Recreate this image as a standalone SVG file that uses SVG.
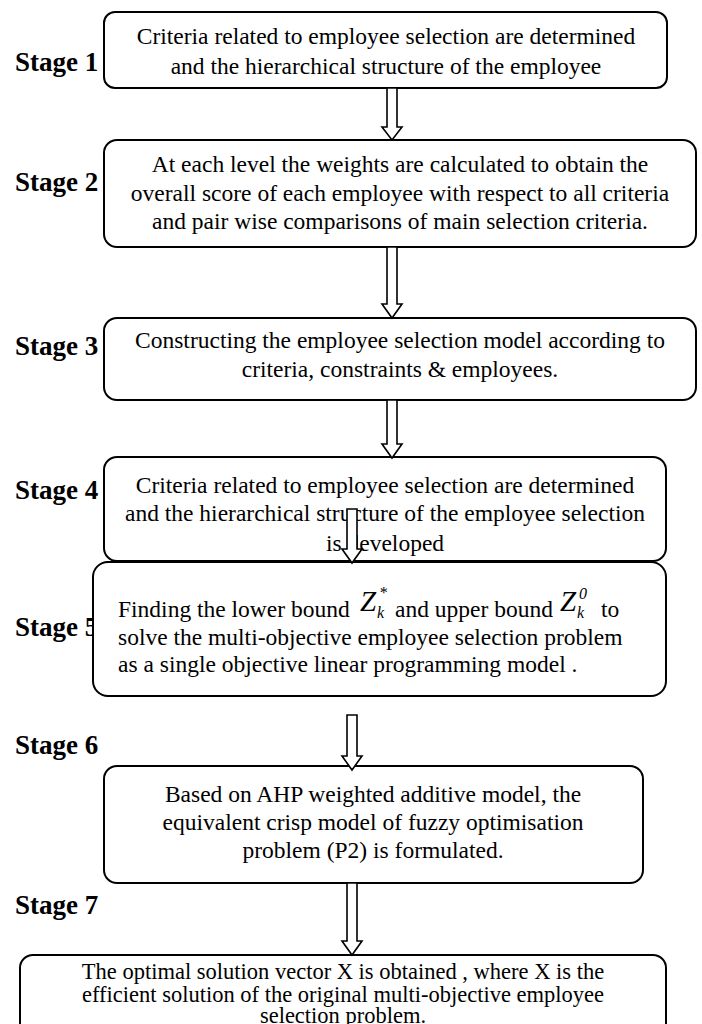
<svg xmlns="http://www.w3.org/2000/svg" width="702" height="1024" viewBox="0 0 702 1024">
<style>
.box{fill:#fff;stroke:#000;stroke-width:2}
.t{font-family:"Liberation Serif",serif;font-size:23.5px;fill:#000;text-anchor:middle}
.t7{font-family:"Liberation Serif",serif;font-size:22.5px;fill:#000;text-anchor:middle}
.tl{font-family:"Liberation Serif",serif;font-size:23.5px;fill:#000}
.st{font-family:"Liberation Serif",serif;font-size:27px;font-weight:bold;fill:#000}
.ar{fill:#fff;stroke:#000;stroke-width:1.6;stroke-linejoin:miter}
.m{font-family:"Liberation Serif",serif;font-style:italic;fill:#000}
</style>
<rect width="702" height="1024" fill="#fff"/>
<g id="labels">
<text class="st" x="15" y="71">Stage 1</text>
<text class="st" x="15" y="191">Stage 2</text>
<text class="st" x="15" y="355">Stage 3</text>
<text class="st" x="15" y="499">Stage 4</text>
<text class="st" x="15" y="636">Stage 5</text>
<text class="st" x="15" y="754">Stage 6</text>
<text class="st" x="15" y="914">Stage 7</text>
</g>
<g id="node1">
<rect class="box" x="104" y="12" width="563" height="76" rx="11"/>
<text class="t" x="386" y="44">Criteria related to employee selection are determined</text>
<text class="t" x="386" y="74">and the hierarchical structure of the employee</text>
</g>
<g id="node2">
<rect class="box" x="104" y="140" width="592" height="107" rx="13"/>
<text class="t" x="400" y="172">At each level the weights are calculated to obtain the</text>
<text class="t" x="400" y="201">overall score of each employee with respect to all criteria</text>
<text class="t" x="400" y="229">and pair wise comparisons of main selection criteria.</text>
</g>
<g id="node3">
<rect class="box" x="104" y="318" width="592" height="82" rx="13"/>
<text class="t" x="400" y="348">Constructing the employee selection model according to</text>
<text class="t" x="400" y="377">criteria, constraints &amp; employees.</text>
</g>
<g id="node4">
<rect class="box" x="104" y="457" width="562" height="104" rx="13"/>
<text class="t" x="385" y="493">Criteria related to employee selection are determined</text>
<text class="t" x="385" y="521">and the hierarchical structure of the employee selection</text>
<text class="t" x="385" y="551">is developed</text>
</g>
<g id="node5">
<rect class="box" x="93" y="562" width="573" height="134" rx="15"/>
<text class="tl" x="118" y="617">Finding the lower bound</text>
<text class="m" x="360" y="611" font-size="29">Z</text>
<text class="m" x="379" y="598" font-size="16" font-style="normal">*</text>
<text class="m" x="377" y="618" font-size="16">k</text>
<text class="tl" x="395" y="617">and upper bound</text>
<text class="m" x="560" y="611" font-size="29">Z</text>
<text class="m" x="579" y="599" font-size="16" font-style="normal">0</text>
<text class="m" x="577" y="618" font-size="16">k</text>
<text class="tl" x="601" y="617">to</text>
<text class="tl" x="118" y="645">solve the multi-objective employee selection problem</text>
<text class="tl" x="118" y="672">as a single objective linear programming model .</text>
</g>
<g id="node6">
<rect class="box" x="104" y="766" width="539" height="117" rx="13"/>
<text class="t" x="373" y="802">Based on AHP weighted additive model, the</text>
<text class="t" x="373" y="830">equivalent crisp model of fuzzy optimisation</text>
<text class="t" x="373" y="858">problem (P2) is formulated.</text>
</g>
<g id="node7">
<rect class="box" x="20" y="955" width="646" height="90" rx="13"/>
<text class="t7" x="343" y="979">The optimal solution vector X is obtained , where X is the</text>
<text class="t7" x="343" y="1002">efficient solution of the original multi-objective employee</text>
<text class="t7" x="343" y="1023">selection problem.</text>
</g>
<g id="connectors">
<polygon class="ar" points="387,88 397,88 397,127 402,127 392,140 382,127 387,127"/>
<polygon class="ar" points="387,247 397,247 397,304 402,304 392,318 382,304 387,304"/>
<polygon class="ar" points="387,400 397,400 397,444 402,444 392,458 382,444 387,444"/>
<polygon class="ar" points="347,509 357,509 357,549 362,549 352,563 342,549 347,549"/>
<polygon class="ar" points="347,715 357,715 357,756 362,756 352,770 342,756 347,756"/>
<polygon class="ar" points="347,883 357,883 357,941 362,941 352,955 342,941 347,941"/>
</g>
</svg>
